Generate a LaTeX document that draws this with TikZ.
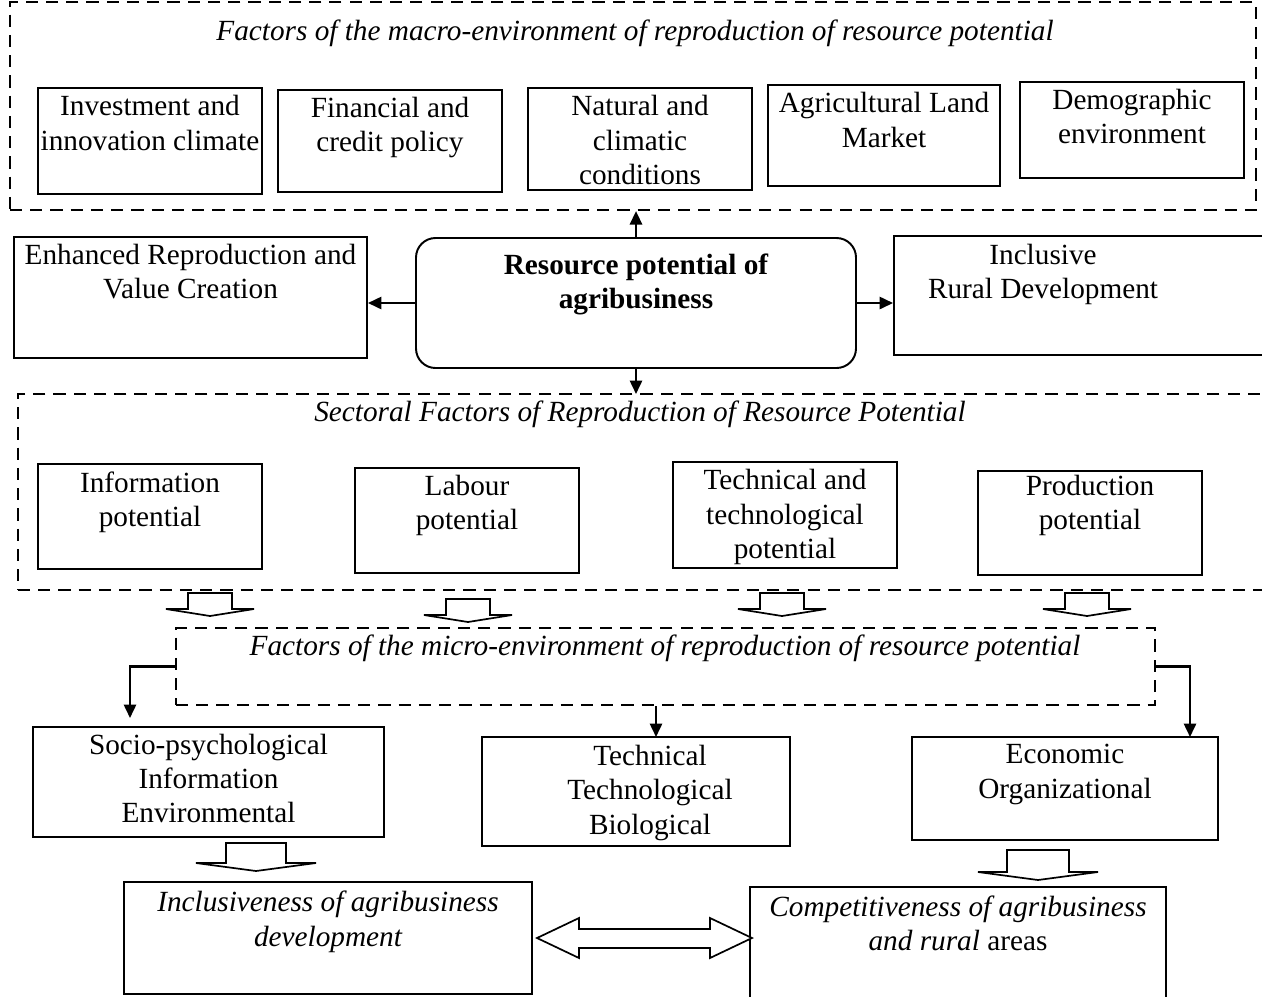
\documentclass[tikz,border=0pt]{standalone}
\usepackage{fontspec}
\setmainfont{Liberation Serif}
\usetikzlibrary{arrows.meta, positioning, fit}

\begin{document}
\begin{tikzpicture}[x=0.41pt, y=-0.41pt,
    font=\fontsize{12}{14}\selectfont,
    box/.style={draw, line width=0.8pt, inner sep=0pt},
    dbox/.style={draw, line width=0.9pt, dash pattern=on 5pt off 3.3pt, inner sep=0pt},
    txt/.style={align=center, inner sep=0pt},
    ttl/.style={font=\fontsize{12}{14}\selectfont\itshape, inner sep=0pt},
    arr/.style={-{Triangle[length=5.5pt, width=5pt]}, line width=0.9pt},
    hol/.style={draw, line width=0.7pt, fill=white}]
  \clip (0,0) rectangle (1262,996);
  % macro-environment
  \node[dbox, fit={(10,2) (1256,210)}] (macro) {};
  \node[ttl] (macroT) at (635,33) {Factors of the macro-environment of reproduction of resource potential};
  \node[box, fit={(38,88) (262,194)}] (inv) {};
  \node[box, fit={(278,90) (502,192)}] (fin) {};
  \node[box, fit={(528,88) (752,190)}] (nat) {};
  \node[box, fit={(768,85) (1000,186)}] (land) {};
  \node[box, fit={(1020,82) (1244,178)}] (demo) {};
  \node[txt, below=3.3pt of inv.north] (invT) {Investment and\\innovation climate};
  \node[txt, below=3pt of fin.north] (finT) {Financial and\\credit policy};
  \node[txt, below=3.3pt of nat.north] (natT) {Natural and\\climatic\\conditions};
  \node[txt, below=3.3pt of land.north] (landT) {Agricultural Land\\Market};
  \node[txt, below=3pt of demo.north] (demoT) {Demographic\\environment};
  % resource potential
  \node[box, fit={(14,237) (367,358)}] (enh) {};
  \node[box, rounded corners=8pt, fit={(416,238) (856,368)}] (res) {};
  \node[box, fit={(894,236) (1290,355)}] (incl) {};
  \node[txt, below=3pt of enh.north] (enhT) {Enhanced Reproduction and\\Value Creation};
  \node[txt, font=\fontsize{12}{14}\selectfont\bfseries, below=6.6pt of res.north] (resT)
    {Resource potential of\\agribusiness};
  \node[txt, anchor=north] (inclT) at (1043,244) {Inclusive\\Rural Development};
  \draw[arr] (res.north) -- (res.north |- macro.south);
  \draw[arr] (res.west) -- (res.west -| enh.east);
  \draw[arr] (res.east) -- (res.east -| incl.west);
  \draw[arr] (res.south) -- (res.south |- 0,394);
  % sectoral factors
  \node[dbox, fit={(18,394) (1290,590)}] (sect) {};
  \node[ttl] (sectT) at (640,414) {Sectoral Factors of Reproduction of Resource Potential};
  \node[box, fit={(38,464) (262,569)}] (info) {};
  \node[box, fit={(355,468) (579,573)}] (lab) {};
  \node[box, fit={(673,462) (897,568)}] (tech) {};
  \node[box, fit={(978,471) (1202,575)}] (prod) {};
  \node[txt, below=3.3pt of info.north] (infoT) {Information\\potential};
  \node[txt, below=3pt of lab.north] (labT) {Labour\\potential};
  \node[txt, below=3.3pt of tech.north] (techT) {Technical and\\technological\\potential};
  \node[txt, below=2pt of prod.north] (prodT) {Production\\potential};
  \foreach \x/\t in {210/593, 468/599, 782/593, 1087/593}
    \draw[hol] (\x-22,\t) -- (\x+22,\t) -- (\x+22,\t+16) -- (\x+44,\t+16) -- (\x,\t+23)
      -- (\x-44,\t+16) -- (\x-22,\t+16) -- cycle;
  % micro-environment
  \node[dbox, fit={(176,628) (1155,705)}] (micro) {};
  \node[ttl] (microT) at (665,648) {Factors of the micro-environment of reproduction of resource potential};
  \node[box, fit={(33,727) (384,837)}] (socio) {};
  \node[box, fit={(482,737) (790,846)}] (techb) {};
  \node[box, fit={(912,737) (1218,840)}] (econ) {};
  \node[txt, below=3pt of socio.north] (socioT) {Socio-psychological\\Information\\Environmental};
  \node[txt, anchor=north] (techbT) at (650,745) {Technical\\Technological\\Biological};
  \node[txt, below=3.3pt of econ.north] (econT) {Economic\\Organizational};
  \coordinate (socioIn) at (130,718);
  \coordinate (techIn) at (656,737);
  \coordinate (econIn) at (1190,737);
  \draw[arr] (micro.west) -| (socioIn);
  \draw[arr] (micro.south -| techIn) -- (techIn);
  \draw[arr] (micro.east) -| (econIn);
  % results
  \node[box, fit={(124,882) (532,994)}] (inc) {};
  \node[box, fit={(750,887) (1166,1010)}] (comp) {};
  \node[txt, font=\fontsize{12}{14}\selectfont\itshape, below=4pt of inc.north] (incT)
    {Inclusiveness of agribusiness\\development};
  \node[txt, below=3.7pt of comp.north] (compT)
    {\textit{Competitiveness of agribusiness}\\\textit{and rural} areas};
  \foreach \x/\t/\s/\w/\b/\h in {256/843/30/60/20/28, 1038/850/31/60/22/30}
    \draw[hol] (\x-\s,\t) -- (\x+\s,\t) -- (\x+\s,\t+\b) -- (\x+\w,\t+\b) -- (\x,\t+\h)
      -- (\x-\w,\t+\b) -- (\x-\s,\t+\b) -- cycle;
  \draw[hol] (537,938) -- (579,918) -- (579,929) -- (710,929) -- (710,918) -- (752,938)
    -- (710,958) -- (710,948) -- (579,948) -- (579,958) -- cycle;
\end{tikzpicture}
\end{document}
